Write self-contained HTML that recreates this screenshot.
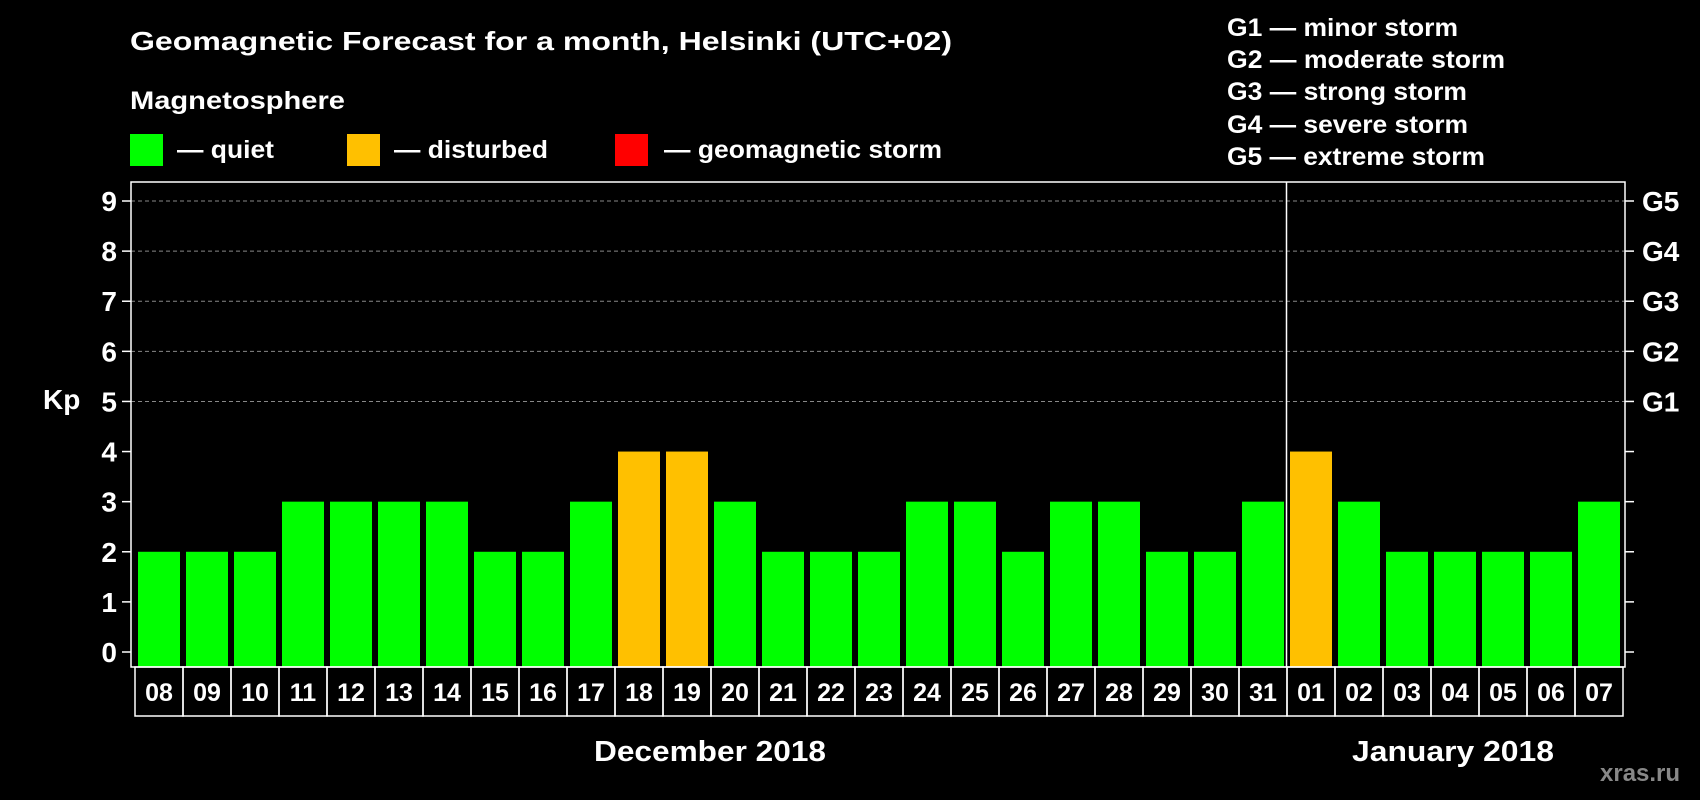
<!DOCTYPE html>
<html><head><meta charset="utf-8"><style>
html,body{margin:0;padding:0;background:#000;}
svg{display:block;}
text{font-family:"Liberation Sans",Arial,sans-serif;font-weight:bold;fill:#fff;}
</style></head><body>
<svg id="chart" width="1700" height="800" viewBox="0 0 1700 800" xmlns="http://www.w3.org/2000/svg">
<rect width="1700" height="800" fill="#000"/>
<text x="130" y="50" font-size="26" textLength="822" lengthAdjust="spacingAndGlyphs">Geomagnetic Forecast for a month, Helsinki (UTC+02)</text>
<text x="130" y="109" font-size="25" textLength="215" lengthAdjust="spacingAndGlyphs">Magnetosphere</text>
<g><rect x="130" y="134" width="33" height="32" fill="#00ff00"/><text x="177" y="158" font-size="25" textLength="97" lengthAdjust="spacingAndGlyphs">— quiet</text></g>
<g><rect x="347" y="134" width="33" height="32" fill="#ffc000"/><text x="394" y="158" font-size="25" textLength="154" lengthAdjust="spacingAndGlyphs">— disturbed</text></g>
<g><rect x="615" y="134" width="33" height="32" fill="#ff0000"/><text x="664" y="158" font-size="25" textLength="278" lengthAdjust="spacingAndGlyphs">— geomagnetic storm</text></g>
<g font-size="25">
<text x="1227" y="36" textLength="231" lengthAdjust="spacingAndGlyphs">G1 — minor storm</text>
<text x="1227" y="68" textLength="278" lengthAdjust="spacingAndGlyphs">G2 — moderate storm</text>
<text x="1227" y="100" textLength="240" lengthAdjust="spacingAndGlyphs">G3 — strong storm</text>
<text x="1227" y="133" textLength="241" lengthAdjust="spacingAndGlyphs">G4 — severe storm</text>
<text x="1227" y="165" textLength="258" lengthAdjust="spacingAndGlyphs">G5 — extreme storm</text>
</g>
<text x="43" y="409" font-size="28">Kp</text>
<g id="grid"></g>
<g id="bars"></g>
<g id="axes"></g>
<text x="710" y="761" font-size="29" text-anchor="middle" textLength="232" lengthAdjust="spacingAndGlyphs">December 2018</text>
<text x="1453" y="761" font-size="29" text-anchor="middle" textLength="202" lengthAdjust="spacingAndGlyphs">January 2018</text>
<text x="1600" y="781" font-size="24" style="fill:#888">xras.ru</text>
</svg>
<script>
const days = ["08","09","10","11","12","13","14","15","16","17","18","19","20","21","22","23","24","25","26","27","28","29","30","31","01","02","03","04","05","06","07"];
const kpValues = [2,2,2,3,3,3,3,2,2,3,4,4,3,2,2,2,3,3,2,3,3,2,2,3,4,3,2,2,2,2,3];
const yTicks = [0,1,2,3,4,5,6,7,8,9];
const gLabels = ["G1","G2","G3","G4","G5"];
const NS = "http://www.w3.org/2000/svg";
const plotL = 131, plotR = 1625, plotT = 182, plotB = 667;
const y0 = 652, unit = (652 - 201) / 9;
const firstX = 135, pitch = 48, cellH = 49;
function yScale(v){ return y0 - v * unit; }
function xScale(i){ return firstX + i * pitch; }
function mk(tag, attrs, parent){ const e = document.createElementNS(NS, tag); for (const k in attrs) e.setAttribute(k, attrs[k]); parent.appendChild(e); return e; }
const grid = document.getElementById('grid'), bars = document.getElementById('bars'), axes = document.getElementById('axes');
yTicks.forEach(t => {
  const y = yScale(t);
  if (t >= 5) {
    const g = mk('line', {x1: plotL, x2: plotR, y1: y, y2: y, stroke: '#888', 'stroke-width': 1, 'stroke-dasharray': '4 3'}, grid);
    
    
  }
  const tl = mk('line', {x1: 122, x2: plotL, y1: y, y2: y, stroke: '#fff', 'stroke-width': 1.5}, axes);
  
  
  const tr = mk('line', {x1: plotR, x2: 1634, y1: y, y2: y, stroke: '#fff', 'stroke-width': 1.5}, axes);
  
  
  const lab = mk('text', {x: 117, y: y + 10, 'font-size': 28, 'text-anchor': 'end'}, axes);
  lab.textContent = t;
  
  
  if (t >= 5) {
    const gl = mk('text', {x: 1642, y: y + 10, 'font-size': 28}, axes);
    gl.textContent = gLabels[t - 5];
    
    
  }
});
kpValues.forEach((v, i) => {
  const x = xScale(i);
  const col = v >= 5 ? '#ff0000' : (v >= 4 ? '#ffc000' : '#00ff00');
  const b = mk('rect', {x: x + 3, y: yScale(v), width: 42, height: plotB - yScale(v), fill: col}, bars);
  
  
  const c = mk('rect', {x: x, y: plotB, width: pitch, height: cellH, fill: 'none', stroke: '#fff', 'stroke-width': 1.5}, axes);
  
  
  const t = mk('text', {x: x + pitch / 2, y: plotB + 34, 'font-size': 25, 'text-anchor': 'middle'}, axes);
  t.textContent = days[i];
  
  
});
const frame = mk('rect', {x: plotL, y: plotT, width: plotR - plotL, height: plotB - plotT, fill: 'none', stroke: '#fff', 'stroke-width': 1.5}, axes);


const divX = xScale(days.indexOf("01")) - 0.5;
const dv = mk('line', {x1: divX, x2: divX, y1: plotT, y2: plotB, stroke: '#fff', 'stroke-width': 1.5}, axes);


</script>
</body></html>
